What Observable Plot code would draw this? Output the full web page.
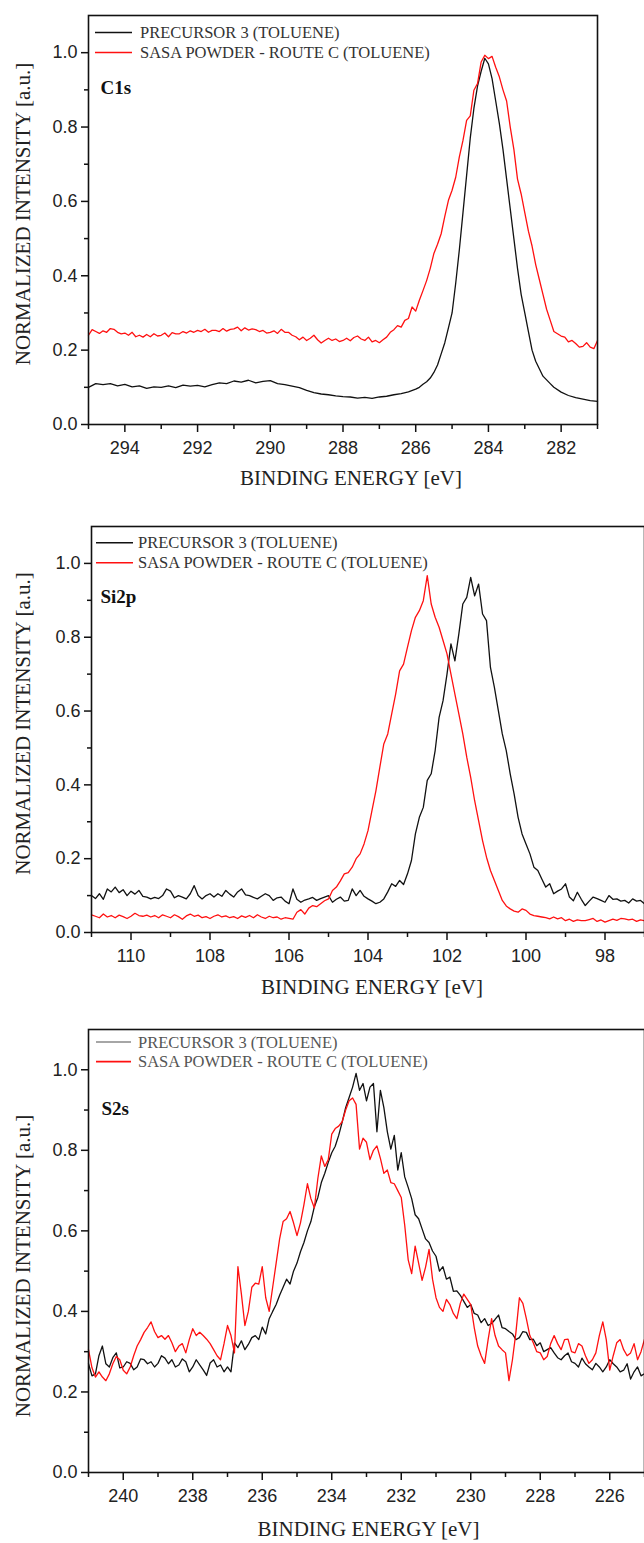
<!DOCTYPE html>
<html>
<head>
<meta charset="utf-8">
<script src="https://cdn.jsdelivr.net/npm/d3@7"></script>
<script src="https://cdn.jsdelivr.net/npm/@observablehq/plot@0.6"></script>
<style>
  html, body { margin: 0; padding: 0; background: #fff; }
  #wrap { position: relative; width: 644px; height: 1543px; overflow: hidden; }
  .panel { position: absolute; left: 0; }
</style>
</head>
<body>
<div id="wrap"></div>
<script>
// ---------- labels ----------
const seriesNames = ["PRECURSOR 3 (TOLUENE)", "SASA POWDER - ROUTE C (TOLUENE)"];
const xTitle = "BINDING ENERGY [eV]";
const yTitle = "NORMALIZED INTENSITY [a.u.]";
const yMajor = [0, 0.2, 0.4, 0.6, 0.8, 1.0];
const yMinor = [0.1, 0.3, 0.5, 0.7, 0.9];

// ---------- C1s ----------
const c1sXMajor = [294, 292, 290, 288, 286, 284, 282];
const c1sXMinor = [295, 293, 291, 289, 287, 285, 283, 281];
const c1sPrecursor = [[295,0.100],[294.8,0.110],[294.6,0.107],[294.4,0.110],[294.2,0.104],[294.0,0.108],[293.8,0.101],[293.6,0.104],[293.4,0.097],[293.2,0.101],[293.0,0.100],[292.8,0.104],[292.6,0.099],[292.4,0.106],[292.2,0.103],[292.0,0.105],[291.8,0.101],[291.6,0.107],[291.4,0.112],[291.2,0.110],[291.0,0.117],[290.8,0.114],[290.6,0.119],[290.4,0.112],[290.2,0.116],[290.0,0.118],[289.8,0.110],[289.6,0.107],[289.4,0.103],[289.2,0.099],[289.0,0.092],[288.8,0.086],[288.6,0.082],[288.4,0.080],[288.2,0.077],[288.0,0.075],[287.8,0.074],[287.6,0.071],[287.4,0.073],[287.2,0.070],[287.0,0.074],[286.8,0.076],[286.6,0.080],[286.4,0.083],[286.2,0.088],[286.0,0.095],[285.9,0.100],[285.8,0.108],[285.7,0.115],[285.6,0.125],[285.5,0.140],[285.4,0.160],[285.3,0.190],[285.2,0.220],[285.1,0.260],[285.0,0.300],[284.9,0.380],[284.8,0.470],[284.7,0.570],[284.6,0.670],[284.5,0.770],[284.4,0.850],[284.3,0.910],[284.2,0.950],[284.1,0.985],[284.0,0.970],[283.9,0.930],[283.8,0.870],[283.7,0.810],[283.6,0.740],[283.5,0.660],[283.4,0.580],[283.3,0.500],[283.2,0.420],[283.1,0.350],[283.0,0.300],[282.9,0.250],[282.8,0.200],[282.7,0.170],[282.6,0.150],[282.5,0.130],[282.4,0.120],[282.3,0.110],[282.2,0.100],[282.0,0.087],[281.8,0.078],[281.6,0.072],[281.4,0.068],[281.2,0.064],[281.0,0.062]];
const c1sSasa = [[295,0.240],[294.9,0.255],[294.8,0.250],[294.7,0.245],[294.6,0.252],[294.5,0.248],[294.4,0.258],[294.3,0.256],[294.2,0.248],[294.1,0.244],[294.0,0.246],[293.9,0.240],[293.8,0.248],[293.7,0.236],[293.6,0.240],[293.5,0.235],[293.4,0.242],[293.3,0.236],[293.2,0.244],[293.1,0.238],[293.0,0.240],[292.9,0.246],[292.8,0.236],[292.7,0.247],[292.6,0.244],[292.5,0.244],[292.4,0.250],[292.3,0.246],[292.2,0.252],[292.1,0.248],[292.0,0.253],[291.9,0.250],[291.8,0.256],[291.7,0.248],[291.6,0.253],[291.5,0.253],[291.4,0.250],[291.3,0.258],[291.2,0.251],[291.1,0.256],[291.0,0.257],[290.9,0.262],[290.8,0.252],[290.7,0.260],[290.6,0.254],[290.5,0.257],[290.4,0.255],[290.3,0.250],[290.2,0.253],[290.1,0.246],[290.0,0.248],[289.9,0.252],[289.8,0.245],[289.7,0.256],[289.6,0.248],[289.5,0.248],[289.4,0.240],[289.3,0.236],[289.2,0.228],[289.1,0.235],[289.0,0.226],[288.9,0.232],[288.8,0.240],[288.7,0.228],[288.6,0.219],[288.5,0.226],[288.4,0.232],[288.3,0.226],[288.2,0.230],[288.1,0.223],[288.0,0.226],[287.9,0.232],[287.8,0.225],[287.7,0.234],[287.6,0.238],[287.5,0.230],[287.4,0.226],[287.3,0.235],[287.2,0.222],[287.1,0.226],[287.0,0.220],[286.9,0.228],[286.8,0.235],[286.7,0.248],[286.6,0.255],[286.5,0.266],[286.4,0.262],[286.3,0.280],[286.2,0.285],[286.1,0.316],[286.0,0.305],[285.9,0.334],[285.8,0.360],[285.7,0.387],[285.6,0.420],[285.5,0.460],[285.4,0.485],[285.3,0.513],[285.2,0.560],[285.1,0.603],[285.0,0.630],[284.9,0.665],[284.8,0.720],[284.7,0.764],[284.6,0.818],[284.5,0.830],[284.4,0.899],[284.3,0.917],[284.2,0.975],[284.1,0.993],[284.0,0.984],[283.9,0.990],[283.8,0.961],[283.7,0.935],[283.6,0.900],[283.5,0.870],[283.4,0.800],[283.3,0.740],[283.2,0.660],[283.1,0.620],[283.0,0.570],[282.9,0.520],[282.8,0.480],[282.7,0.430],[282.6,0.390],[282.5,0.350],[282.4,0.310],[282.3,0.280],[282.2,0.250],[282.1,0.244],[282.0,0.238],[281.9,0.235],[281.8,0.222],[281.7,0.226],[281.6,0.218],[281.5,0.208],[281.4,0.210],[281.3,0.220],[281.2,0.208],[281.1,0.204],[281.0,0.226]];

// ---------- Si2p ----------
const si2pXMajor = [110, 108, 106, 104, 102, 100, 98];
const si2pXMinor = [111, 109, 107, 105, 103, 101, 99, 97];
const si2pPrecursor = [[111,0.100],[110.9,0.092],[110.8,0.105],[110.7,0.090],[110.6,0.118],[110.5,0.110],[110.4,0.123],[110.3,0.108],[110.2,0.116],[110.1,0.100],[110.0,0.112],[109.9,0.104],[109.8,0.114],[109.7,0.098],[109.6,0.096],[109.5,0.091],[109.4,0.095],[109.3,0.092],[109.2,0.100],[109.1,0.118],[109.0,0.112],[108.9,0.094],[108.8,0.100],[108.7,0.096],[108.6,0.091],[108.5,0.105],[108.4,0.127],[108.3,0.100],[108.2,0.091],[108.1,0.100],[108.0,0.105],[107.9,0.096],[107.8,0.105],[107.7,0.098],[107.6,0.114],[107.5,0.104],[107.4,0.096],[107.3,0.110],[107.2,0.118],[107.1,0.102],[107.0,0.100],[106.9,0.095],[106.8,0.091],[106.7,0.098],[106.6,0.105],[106.5,0.100],[106.4,0.087],[106.3,0.094],[106.2,0.096],[106.1,0.085],[106.0,0.078],[105.9,0.118],[105.8,0.090],[105.7,0.082],[105.6,0.088],[105.5,0.091],[105.4,0.095],[105.3,0.087],[105.2,0.092],[105.1,0.096],[105.0,0.100],[104.9,0.082],[104.8,0.090],[104.7,0.096],[104.6,0.085],[104.5,0.087],[104.4,0.118],[104.3,0.100],[104.2,0.114],[104.1,0.098],[104.0,0.091],[103.9,0.085],[103.8,0.078],[103.7,0.082],[103.6,0.091],[103.5,0.110],[103.4,0.132],[103.3,0.125],[103.2,0.141],[103.1,0.130],[103.0,0.159],[102.9,0.195],[102.8,0.267],[102.7,0.312],[102.6,0.339],[102.5,0.412],[102.4,0.430],[102.3,0.493],[102.2,0.583],[102.1,0.628],[102.0,0.700],[101.9,0.782],[101.8,0.736],[101.7,0.809],[101.6,0.890],[101.5,0.908],[101.4,0.962],[101.3,0.912],[101.2,0.944],[101.1,0.863],[101.0,0.845],[100.9,0.718],[100.8,0.664],[100.7,0.601],[100.6,0.538],[100.5,0.493],[100.4,0.430],[100.3,0.375],[100.2,0.312],[100.1,0.267],[100.0,0.240],[99.9,0.213],[99.8,0.177],[99.7,0.168],[99.6,0.145],[99.5,0.123],[99.4,0.132],[99.3,0.105],[99.2,0.112],[99.1,0.118],[99.0,0.132],[98.9,0.096],[98.8,0.086],[98.7,0.109],[98.6,0.090],[98.5,0.073],[98.4,0.085],[98.3,0.096],[98.2,0.092],[98.1,0.087],[98.0,0.082],[97.9,0.100],[97.8,0.090],[97.7,0.091],[97.6,0.085],[97.5,0.087],[97.4,0.080],[97.3,0.091],[97.2,0.085],[97.1,0.087],[97.0,0.078]];
const si2pSasa = [[111,0.048],[110.9,0.044],[110.8,0.040],[110.7,0.050],[110.6,0.042],[110.5,0.046],[110.4,0.040],[110.3,0.047],[110.2,0.043],[110.1,0.038],[110.0,0.044],[109.9,0.052],[109.8,0.046],[109.7,0.044],[109.6,0.047],[109.5,0.042],[109.4,0.046],[109.3,0.040],[109.2,0.048],[109.1,0.044],[109.0,0.040],[108.9,0.048],[108.8,0.043],[108.7,0.036],[108.6,0.045],[108.5,0.050],[108.4,0.044],[108.3,0.047],[108.2,0.040],[108.1,0.043],[108.0,0.038],[107.9,0.044],[107.8,0.048],[107.7,0.042],[107.6,0.045],[107.5,0.040],[107.4,0.043],[107.3,0.038],[107.2,0.045],[107.1,0.041],[107.0,0.046],[106.9,0.040],[106.8,0.048],[106.7,0.042],[106.6,0.038],[106.5,0.044],[106.4,0.040],[106.3,0.042],[106.2,0.036],[106.1,0.040],[106.0,0.038],[105.9,0.036],[105.8,0.055],[105.7,0.062],[105.6,0.050],[105.5,0.066],[105.4,0.073],[105.3,0.070],[105.2,0.078],[105.1,0.086],[105.0,0.091],[104.9,0.114],[104.8,0.123],[104.7,0.140],[104.6,0.159],[104.5,0.162],[104.4,0.177],[104.3,0.200],[104.2,0.213],[104.1,0.240],[104.0,0.276],[103.9,0.330],[103.8,0.384],[103.7,0.448],[103.6,0.511],[103.5,0.538],[103.4,0.592],[103.3,0.646],[103.2,0.709],[103.1,0.727],[103.0,0.773],[102.9,0.818],[102.8,0.854],[102.7,0.872],[102.6,0.899],[102.5,0.967],[102.4,0.890],[102.3,0.854],[102.2,0.827],[102.1,0.791],[102.0,0.755],[101.9,0.700],[101.8,0.646],[101.7,0.592],[101.6,0.538],[101.5,0.475],[101.4,0.420],[101.3,0.357],[101.2,0.303],[101.1,0.249],[101.0,0.204],[100.9,0.168],[100.8,0.141],[100.7,0.114],[100.6,0.087],[100.5,0.072],[100.4,0.064],[100.3,0.058],[100.2,0.055],[100.1,0.064],[100.0,0.060],[99.9,0.050],[99.8,0.046],[99.7,0.044],[99.6,0.042],[99.5,0.040],[99.4,0.037],[99.3,0.042],[99.2,0.037],[99.1,0.040],[99.0,0.032],[98.9,0.036],[98.8,0.030],[98.7,0.034],[98.6,0.032],[98.5,0.032],[98.4,0.035],[98.3,0.038],[98.2,0.030],[98.1,0.034],[98.0,0.028],[97.9,0.032],[97.8,0.036],[97.7,0.033],[97.6,0.038],[97.5,0.037],[97.4,0.034],[97.3,0.036],[97.2,0.030],[97.1,0.034],[97.0,0.032]];

// ---------- S2s ----------
const s2sXMajor = [240, 238, 236, 234, 232, 230, 228, 226];
const s2sXMinor = [241, 239, 237, 235, 233, 231, 229, 227, 225];
const s2sPrecursor = [[241,0.270],[240.9,0.240],[240.8,0.245],[240.7,0.290],[240.6,0.314],[240.5,0.270],[240.4,0.262],[240.3,0.285],[240.2,0.297],[240.1,0.260],[240.0,0.262],[239.9,0.275],[239.8,0.271],[239.7,0.255],[239.6,0.262],[239.5,0.282],[239.4,0.280],[239.3,0.270],[239.2,0.275],[239.1,0.262],[239.0,0.271],[238.9,0.290],[238.8,0.284],[238.7,0.270],[238.6,0.280],[238.5,0.262],[238.4,0.267],[238.3,0.282],[238.2,0.275],[238.1,0.250],[238.0,0.262],[237.9,0.280],[237.8,0.267],[237.7,0.255],[237.6,0.241],[237.5,0.272],[237.4,0.280],[237.3,0.262],[237.2,0.267],[237.1,0.250],[237.0,0.262],[236.9,0.250],[236.8,0.322],[236.7,0.310],[236.6,0.327],[236.5,0.305],[236.4,0.318],[236.3,0.335],[236.2,0.340],[236.1,0.330],[236.0,0.361],[235.9,0.344],[235.8,0.382],[235.7,0.400],[235.6,0.417],[235.5,0.440],[235.4,0.460],[235.3,0.480],[235.2,0.468],[235.1,0.500],[235.0,0.520],[234.9,0.548],[234.8,0.571],[234.7,0.600],[234.6,0.623],[234.5,0.660],[234.4,0.683],[234.3,0.720],[234.2,0.743],[234.1,0.770],[234.0,0.794],[233.9,0.810],[233.8,0.837],[233.7,0.870],[233.6,0.906],[233.5,0.931],[233.4,0.957],[233.3,0.991],[233.2,0.949],[233.1,0.966],[233.0,0.923],[232.9,0.957],[232.8,0.966],[232.7,0.846],[232.6,0.949],[232.5,0.906],[232.4,0.846],[232.3,0.803],[232.2,0.837],[232.1,0.751],[232.0,0.794],[231.9,0.734],[231.8,0.708],[231.7,0.680],[231.6,0.640],[231.5,0.630],[231.4,0.605],[231.3,0.580],[231.2,0.571],[231.1,0.550],[231.0,0.537],[230.9,0.500],[230.8,0.511],[230.7,0.480],[230.6,0.485],[230.5,0.450],[230.4,0.451],[230.3,0.440],[230.2,0.425],[230.1,0.410],[230.0,0.417],[229.9,0.395],[229.8,0.391],[229.7,0.372],[229.6,0.382],[229.5,0.365],[229.4,0.370],[229.3,0.380],[229.2,0.391],[229.1,0.360],[229.0,0.357],[228.9,0.350],[228.8,0.344],[228.7,0.330],[228.6,0.335],[228.5,0.350],[228.4,0.348],[228.3,0.330],[228.2,0.331],[228.1,0.315],[228.0,0.322],[227.9,0.300],[227.8,0.305],[227.7,0.310],[227.6,0.297],[227.5,0.285],[227.4,0.280],[227.3,0.290],[227.2,0.297],[227.1,0.275],[227.0,0.271],[226.9,0.262],[226.8,0.284],[226.7,0.270],[226.6,0.262],[226.5,0.255],[226.4,0.271],[226.3,0.262],[226.2,0.250],[226.1,0.262],[226.0,0.280],[225.9,0.270],[225.8,0.262],[225.7,0.250],[225.6,0.254],[225.5,0.270],[225.4,0.232],[225.3,0.250],[225.2,0.262],[225.1,0.240],[225.0,0.245]];
const s2sSasa = [[241,0.305],[240.9,0.260],[240.8,0.237],[240.7,0.250],[240.6,0.237],[240.5,0.228],[240.4,0.245],[240.3,0.270],[240.2,0.288],[240.1,0.280],[240.0,0.254],[239.9,0.245],[239.8,0.262],[239.7,0.290],[239.6,0.314],[239.5,0.330],[239.4,0.348],[239.3,0.360],[239.2,0.374],[239.1,0.350],[239.0,0.335],[238.9,0.340],[238.8,0.331],[238.7,0.340],[238.6,0.322],[238.5,0.300],[238.4,0.314],[238.3,0.320],[238.2,0.297],[238.1,0.330],[238.0,0.357],[237.9,0.340],[237.8,0.348],[237.7,0.340],[237.6,0.331],[237.5,0.320],[237.4,0.305],[237.3,0.290],[237.2,0.280],[237.1,0.320],[237.0,0.365],[236.9,0.340],[236.8,0.297],[236.7,0.511],[236.6,0.443],[236.5,0.365],[236.4,0.400],[236.3,0.460],[236.2,0.470],[236.1,0.468],[236.0,0.511],[235.9,0.434],[235.8,0.400],[235.7,0.460],[235.6,0.520],[235.5,0.580],[235.4,0.623],[235.3,0.630],[235.2,0.648],[235.1,0.620],[235.0,0.588],[234.9,0.620],[234.8,0.665],[234.7,0.717],[234.6,0.680],[234.5,0.657],[234.4,0.730],[234.3,0.786],[234.2,0.760],[234.1,0.777],[234.0,0.840],[233.9,0.854],[233.8,0.860],[233.7,0.871],[233.6,0.900],[233.5,0.923],[233.4,0.930],[233.3,0.914],[233.2,0.803],[233.1,0.830],[233.0,0.820],[232.9,0.777],[232.8,0.800],[232.7,0.811],[232.6,0.780],[232.5,0.743],[232.4,0.751],[232.3,0.720],[232.2,0.717],[232.1,0.700],[232.0,0.683],[231.9,0.614],[231.8,0.528],[231.7,0.494],[231.6,0.562],[231.5,0.520],[231.4,0.477],[231.3,0.510],[231.2,0.554],[231.1,0.480],[231.0,0.434],[230.9,0.410],[230.8,0.400],[230.7,0.430],[230.6,0.417],[230.5,0.395],[230.4,0.382],[230.3,0.420],[230.2,0.443],[230.1,0.430],[230.0,0.417],[229.9,0.360],[229.8,0.314],[229.7,0.290],[229.6,0.271],[229.5,0.330],[229.4,0.382],[229.3,0.340],[229.2,0.314],[229.1,0.305],[229.0,0.297],[228.9,0.228],[228.8,0.280],[228.7,0.348],[228.6,0.434],[228.5,0.420],[228.4,0.382],[228.3,0.340],[228.2,0.322],[228.1,0.300],[228.0,0.297],[227.9,0.280],[227.8,0.288],[227.7,0.320],[227.6,0.340],[227.5,0.320],[227.4,0.305],[227.3,0.330],[227.2,0.331],[227.1,0.300],[227.0,0.297],[226.9,0.320],[226.8,0.314],[226.7,0.290],[226.6,0.271],[226.5,0.280],[226.4,0.297],[226.3,0.340],[226.2,0.374],[226.1,0.330],[226.0,0.254],[225.9,0.290],[225.8,0.322],[225.7,0.330],[225.6,0.305],[225.5,0.290],[225.4,0.297],[225.3,0.320],[225.2,0.280],[225.1,0.300],[225.0,0.331]];

// ---------- panel builder ----------
const SERIF = "'Liberation Serif', 'Times New Roman', serif";
const SANS = "'Liberation Sans', Arial, sans-serif";
const toRows = arr => arr.map(([e, v]) => ({e, v}));

function panel(cfg) {
  const plot = Plot.plot({
    width: 644,
    height: cfg.height,
    marginTop: cfg.mt, marginBottom: cfg.mb, marginLeft: cfg.ml, marginRight: cfg.mr,
    x: {domain: cfg.xDomain},
    y: {domain: [0, 1.1]},
    style: {background: "#fff", color: "#111", overflow: "visible"},
    marks: [
      Plot.line(toRows(cfg.black), {x: "e", y: "v", stroke: "#111", strokeWidth: 1.3}),
      Plot.line(toRows(cfg.red), {x: "e", y: "v", stroke: "#ff1010", strokeWidth: 1.3}),
      Plot.axisX(cfg.xMajor, {tickSize: 8, tickPadding: 9, strokeWidth: 1.5, fontSize: 18, fontFamily: SANS, fill: "#222", tickFormat: d => String(d), label: null}),
      Plot.axisX(cfg.xMinor, {tickSize: 5, strokeWidth: 1.5, fill: "none", label: null}),
      Plot.axisY(yMajor, {tickSize: 7, tickPadding: 4, strokeWidth: 1.5, fontSize: 18, fontFamily: SANS, fill: "#222", tickFormat: d3.format(".1f"), label: null}),
      Plot.axisY(yMinor, {tickSize: 4, strokeWidth: 1.5, fill: "none", label: null}),
      Plot.frame({stroke: "#111", strokeWidth: 1.6}),
      Plot.text([xTitle], {text: d => d, frameAnchor: "bottom", textAnchor: "middle", lineAnchor: "middle", dy: cfg.xTitleDy, dx: cfg.xTitleDx, fontFamily: SERIF, fontSize: 21, fill: "#222"}),
      Plot.text([yTitle], {text: d => d, frameAnchor: "left", textAnchor: "middle", lineAnchor: "middle", dx: cfg.yTitleX - cfg.ml, dy: cfg.yTitleDy, rotate: -90, fontFamily: SERIF, fontSize: 21, fill: "#222"}),
      Plot.text([cfg.label], {text: d => d, frameAnchor: "top-left", textAnchor: "start", lineAnchor: "middle", dx: cfg.labelX - cfg.ml, dy: cfg.labelY - cfg.mt, fontFamily: SERIF, fontSize: 19, fontWeight: "bold", fill: "#111"})
    ]
  });
  // in-plot legend
  const svg = d3.select(plot);
  const g = svg.append("g").attr("text-anchor", "start");
  const swatch = [cfg.legendBlack, "#ff1010"];
  seriesNames.forEach((name, i) => {
    const y = cfg.legendY + i * cfg.legendStep;
    g.append("line").attr("x1", cfg.legendX1).attr("x2", cfg.legendX2)
      .attr("y1", y).attr("y2", y).attr("stroke", swatch[i]).attr("stroke-width", 1.6);
    g.append("text").attr("x", cfg.legendTextX).attr("y", y).attr("dy", "0.35em")
      .attr("text-anchor", "start")
      .attr("font-family", SERIF).attr("font-size", 16.5).attr("fill", cfg.legendText)
      .text(name);
  });
  const div = document.createElement("div");
  div.className = "panel";
  div.style.top = cfg.top + "px";
  div.appendChild(plot);
  document.getElementById("wrap").appendChild(div);
}

panel({top: 0, height: 500, mt: 15, mb: 76, ml: 88, mr: 47,
  xDomain: [295, 281], xMajor: c1sXMajor, xMinor: c1sXMinor,
  black: c1sPrecursor, red: c1sSasa, label: "C1s",
  xTitleDy: 54, xTitleDx: 8, yTitleX: 23, yTitleDy: -6,
  labelX: 100, labelY: 87,
  legendY: 32.5, legendStep: 20, legendX1: 95, legendX2: 132, legendTextX: 140,
  legendBlack: "#111", legendText: "#333"});

panel({top: 510, height: 500, mt: 16, mb: 78, ml: 91, mr: 0,
  xDomain: [111, 97], xMajor: si2pXMajor, xMinor: si2pXMinor,
  black: si2pPrecursor, red: si2pSasa, label: "Si2p",
  xTitleDy: 55, xTitleDx: 4, yTitleX: 23, yTitleDy: -6,
  labelX: 100, labelY: 86,
  legendY: 32.7, legendStep: 20, legendX1: 96, legendX2: 133, legendTextX: 138,
  legendBlack: "#111", legendText: "#333"});

panel({top: 1010, height: 533, mt: 19, mb: 71, ml: 88, mr: 0,
  xDomain: [241, 225], xMajor: s2sXMajor, xMinor: s2sXMinor,
  black: s2sPrecursor, red: s2sSasa, label: "S2s",
  xTitleDy: 57, xTitleDx: 2, yTitleX: 23, yTitleDy: 15,
  labelX: 101, labelY: 98,
  legendY: 32, legendStep: 19.6, legendX1: 96, legendX2: 131, legendTextX: 138,
  legendBlack: "#888", legendText: "#555"});
</script>
</body>
</html>
